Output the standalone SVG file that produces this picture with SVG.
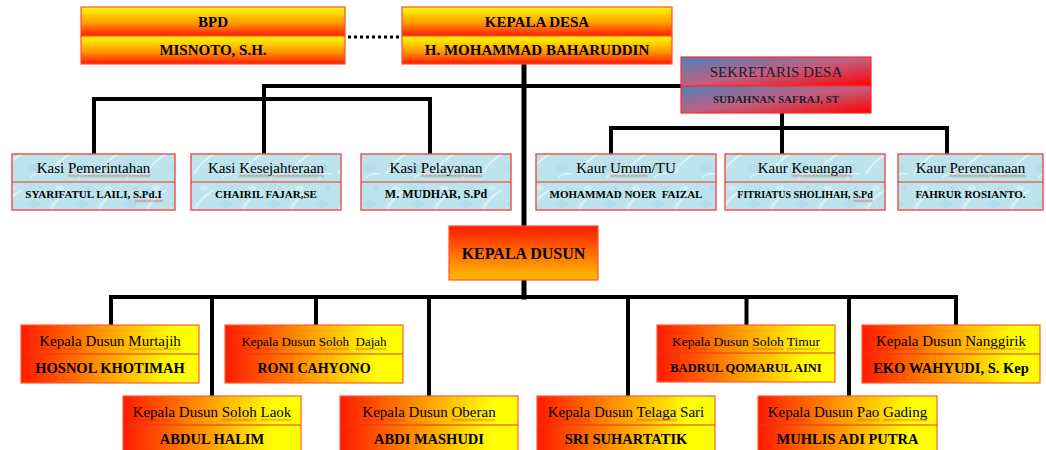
<svg xmlns="http://www.w3.org/2000/svg" width="1046" height="450" viewBox="0 0 1046 450">
<style>
text{font-family:"Liberation Serif","Times New Roman",serif;fill:#000;text-anchor:middle}
.b{font-weight:bold}
.top{stroke:#ff4a3a;stroke-width:1.2}
.sek{stroke:#ff2a2a;stroke-width:1.2}
.kasi{fill:url(#water);stroke:#f05555;stroke-width:1.5}
.dus{fill:url(#gDus);stroke:#ff5a3a;stroke-width:1.2}
.div{stroke:#e8342a;stroke-width:1.2}
.wv{fill:url(#wave)}
.conn{fill:none;stroke:#000;stroke-width:4;stroke-linejoin:miter;stroke-linecap:square}
</style>
<defs>
<linearGradient id="gTop" x1="0" y1="0" x2="0" y2="1"><stop offset="0" stop-color="#ffff00"/><stop offset="0.55" stop-color="#ff9a00"/><stop offset="1" stop-color="#ff1a00"/></linearGradient>
<linearGradient id="gSek" x1="0" y1="0" x2="1" y2="1"><stop offset="0" stop-color="#4f81bd"/><stop offset="0.5" stop-color="#c06080"/><stop offset="1" stop-color="#ff0000"/></linearGradient>
<linearGradient id="gKD" x1="0" y1="0" x2="0" y2="1"><stop offset="0" stop-color="#ff1a00"/><stop offset="1" stop-color="#ffc000"/></linearGradient>
<linearGradient id="gDus" x1="0" y1="0" x2="1" y2="0"><stop offset="0" stop-color="#ff1a00"/><stop offset="0.55" stop-color="#ffb000"/><stop offset="0.85" stop-color="#ffff00"/><stop offset="1" stop-color="#ffff00"/></linearGradient>
<pattern id="water" width="48" height="36" patternUnits="userSpaceOnUse">
<rect width="48" height="36" fill="#bde3ec"/>
<path d="M2 30 q8 -14 20 -20" stroke="#e4f5f9" stroke-width="2" fill="none" opacity="0.8"/>
<ellipse cx="34" cy="24" rx="7" ry="4" fill="#aad8e4" opacity="0.5"/>
<ellipse cx="12" cy="8" rx="4" ry="2.5" fill="#e0f3f8" opacity="0.7"/>
<circle cx="40" cy="8" r="2" fill="#a6d6e2" opacity="0.5"/>
<path d="M30 34 q6 -6 14 -4" stroke="#dcf2f7" stroke-width="1.5" fill="none"/>
</pattern>
<pattern id="wave" width="4" height="3" patternUnits="userSpaceOnUse">
<path d="M0 2.5 L2 0.5 L4 2.5" fill="none" stroke="#e02020" stroke-width="0.8"/>
</pattern>
</defs>

<g id="connectors">
<path class="conn" d="M348 37 H401" stroke-dasharray="3 3" style="stroke-width:3;stroke-linecap:butt"/>
<path class="conn" d="M524 64 V297" style="stroke-width:5"/>
<path class="conn" d="M264 154 V86 H681"/>
<path class="conn" d="M94 154 V99 H430 V154"/>
<path class="conn" d="M782 113 V154"/>
<path class="conn" d="M611 154 V128 H947 V154"/>
<path class="conn" d="M111 325 V297 H956 V325"/>
<path class="conn" d="M212 297 V397 M316 297 V325 M429 297 V397 M628 297 V397 M746.5 297 V325 M849 297 V397"/>
</g>

<g id="bpd">
<rect class="top" x="81" y="7" width="264" height="29" fill="url(#gTop)"/>
<rect class="top" x="81" y="36" width="264" height="28" fill="url(#gTop)"/>
<text class="b" x="213" y="27" font-size="15">BPD</text>
<text class="b" x="213" y="55" font-size="15">MISNOTO, S.H.</text>
</g>

<g id="kepala-desa">
<rect class="top" x="402" y="7" width="270" height="29" fill="url(#gTop)"/>
<rect class="top" x="402" y="36" width="270" height="28" fill="url(#gTop)"/>
<text class="b" x="537" y="27" font-size="15">KEPALA DESA</text>
<text class="b" x="537" y="55" font-size="15">H. MOHAMMAD BAHARUDDIN</text>
</g>

<g id="sekretaris">
<rect class="sek" x="681" y="57" width="190" height="29" fill="url(#gSek)"/>
<rect class="sek" x="681" y="86" width="190" height="27" fill="url(#gSek)"/>
<text x="776" y="77" font-size="15" style="fill:#1c1c30">SEKRETARIS DESA</text>
<text class="b" x="776" y="103" font-size="11" style="fill:#1c1c30">SUDAHNAN SAFRAJ, ST</text>
</g>

<g id="kasi-pemerintahan">
<rect class="kasi" x="12" y="154" width="163" height="56"/>
<line class="div" x1="12" y1="182" x2="175" y2="182"/>
<text x="93.5" y="173" font-size="15">Kasi Pemerintahan</text>
<text class="b" x="93.5" y="198" font-size="11">SYARIFATUL LAILI, S.Pd.I</text>
<rect class="wv" transform="translate(67.8 174.5)" width="82.5" height="3"/>
<rect class="wv" transform="translate(134.6 199.5)" width="28.7" height="3"/>
</g>

<g id="kasi-kesejahteraan">
<rect class="kasi" x="191" y="154" width="150" height="56"/>
<line class="div" x1="191" y1="182" x2="341" y2="182"/>
<text x="266" y="173" font-size="15">Kasi Kesejahteraan</text>
<text class="b" x="266" y="198" font-size="11">CHAIRIL FAJAR,SE</text>
<rect class="wv" transform="translate(239.1 174.5)" width="85" height="3"/>
</g>

<g id="kasi-pelayanan">
<rect class="kasi" x="361" y="154" width="150" height="56"/>
<line class="div" x1="361" y1="182" x2="511" y2="182"/>
<text x="436" y="173" font-size="15">Kasi Pelayanan</text>
<text class="b" x="436" y="198" font-size="12">M. MUDHAR, S.Pd</text>
<rect class="wv" transform="translate(420.8 174.5)" width="61.7" height="3"/>
</g>

<g id="kaur-umum">
<rect class="kasi" x="536" y="154" width="180" height="56"/>
<line class="div" x1="536" y1="182" x2="716" y2="182"/>
<text x="626" y="173" font-size="15">Kaur Umum/TU</text>
<text class="b" x="626" y="198" font-size="11" xml:space="preserve">MOHAMMAD NOER  FAIZAL</text>
<rect class="wv" transform="translate(609.9 174.5)" width="37.5" height="3"/>
</g>

<g id="kaur-keuangan">
<rect class="kasi" x="725" y="154" width="160" height="56"/>
<line class="div" x1="725" y1="182" x2="885" y2="182"/>
<text x="805" y="173" font-size="15">Kaur Keuangan</text>
<text class="b" x="805" y="198" font-size="10">FITRIATUS SHOLIHAH, S.Pd</text>
<rect class="wv" transform="translate(791.4 174.5)" width="60.8" height="3"/>
<rect class="wv" transform="translate(853.3 199.5)" width="19.7" height="3"/>
</g>

<g id="kaur-perencanaan">
<rect class="kasi" x="898" y="154" width="145" height="56"/>
<line class="div" x1="898" y1="182" x2="1043" y2="182"/>
<text x="970.5" y="173" font-size="15">Kaur Perencanaan</text>
<text class="b" x="970.5" y="198" font-size="11">FAHRUR ROSIANTO.</text>
<rect class="wv" transform="translate(949.4 174.5)" width="75.8" height="3"/>
</g>

<g id="kepala-dusun">
<rect x="449" y="226" width="149" height="54" fill="url(#gKD)" stroke="#ff5030" stroke-width="1.2"/>
<text class="b" x="523.5" y="259" font-size="16">KEPALA DUSUN</text>
</g>

<g id="dusun-murtajih">
<rect class="dus" x="21" y="325" width="178" height="58"/>
<line class="div" x1="21" y1="354" x2="199" y2="354"/>
<text x="110" y="346" font-size="15">Kepala Dusun Murtajih</text>
<text class="b" x="110" y="373" font-size="14.5">HOSNOL KHOTIMAH</text>
<rect class="wv" transform="translate(39.2 347.5)" width="42.5" height="3"/>
<rect class="wv" transform="translate(128.3 347.5)" width="52.5" height="3"/>
</g>

<g id="dusun-soloh-dajah">
<rect class="dus" x="225" y="325" width="178" height="58"/>
<line class="div" x1="225" y1="354" x2="403" y2="354"/>
<text x="314" y="346" font-size="13" xml:space="preserve">Kepala Dusun Soloh  Dajah</text>
<text class="b" x="314" y="373" font-size="14">RONI CAHYONO</text>
<rect class="wv" transform="translate(241.4 347.5)" width="36.8" height="3"/>
<rect class="wv" transform="translate(318.7 347.5)" width="30.3" height="3"/>
<rect class="wv" transform="translate(355.5 347.5)" width="31" height="3"/>
</g>

<g id="dusun-soloh-timur">
<rect class="dus" x="657" y="325" width="178" height="57"/>
<line class="div" x1="657" y1="353" x2="835" y2="353"/>
<text x="746" y="346" font-size="13.5">Kepala Dusun Soloh Timur</text>
<text class="b" x="746" y="372" font-size="12.5">BADRUL QOMARUL AINI</text>
<rect class="wv" transform="translate(671.6 347.5)" width="38.2" height="3"/>
<rect class="wv" transform="translate(751.8 347.5)" width="31.5" height="3"/>
<rect class="wv" transform="translate(786.7 347.5)" width="33.7" height="3"/>
</g>

<g id="dusun-nanggirik">
<rect class="dus" x="862" y="325" width="178" height="58"/>
<line class="div" x1="862" y1="354" x2="1040" y2="354"/>
<text x="951" y="346" font-size="15">Kepala Dusun Nanggirik</text>
<text class="b" x="951" y="373" font-size="14.5">EKO WAHYUDI, S. Kep</text>
<rect class="wv" transform="translate(876 347.5)" width="42.5" height="3"/>
<rect class="wv" transform="translate(965.1 347.5)" width="60.8" height="3"/>
</g>

<g id="dusun-soloh-laok">
<rect class="dus" x="123" y="396" width="178" height="60"/>
<line class="div" x1="123" y1="425" x2="301" y2="425"/>
<text x="212" y="417" font-size="15">Kepala Dusun Soloh Laok</text>
<text class="b" x="212" y="444" font-size="14.5">ABDUL HALIM</text>
<rect class="wv" transform="translate(132.6 418.5)" width="42.5" height="3"/>
<rect class="wv" transform="translate(221.7 418.5)" width="35" height="3"/>
<rect class="wv" transform="translate(260.5 418.5)" width="30.8" height="3"/>
</g>

<g id="dusun-oberan">
<rect class="dus" x="340" y="396" width="178" height="60"/>
<line class="div" x1="340" y1="425" x2="518" y2="425"/>
<text x="429" y="417" font-size="15">Kepala Dusun Oberan</text>
<text class="b" x="429" y="444" font-size="14.5">ABDI MASHUDI</text>
<rect class="wv" transform="translate(362.4 418.5)" width="42.5" height="3"/>
<rect class="wv" transform="translate(451.5 418.5)" width="44.1" height="3"/>
</g>

<g id="dusun-telaga-sari">
<rect class="dus" x="537" y="396" width="178" height="60"/>
<line class="div" x1="537" y1="425" x2="715" y2="425"/>
<text x="626" y="417" font-size="15">Kepala Dusun Telaga Sari</text>
<text class="b" x="626" y="444" font-size="14.5">SRI SUHARTATIK</text>
<rect class="wv" transform="translate(547.1 418.5)" width="42.5" height="3"/>
<rect class="wv" transform="translate(636.2 418.5)" width="40.8" height="3"/>
</g>

<g id="dusun-pao-gading">
<rect class="dus" x="758" y="396" width="179" height="60"/>
<line class="div" x1="758" y1="425" x2="937" y2="425"/>
<text x="847.5" y="417" font-size="15">Kepala Dusun Pao Gading</text>
<text class="b" x="847.5" y="444" font-size="14.5">MUHLIS ADI PUTRA</text>
<rect class="wv" transform="translate(767.7 418.5)" width="42.5" height="3"/>
<rect class="wv" transform="translate(856.8 418.5)" width="22.5" height="3"/>
<rect class="wv" transform="translate(883.1 418.5)" width="44.2" height="3"/>
</g>
</svg>
